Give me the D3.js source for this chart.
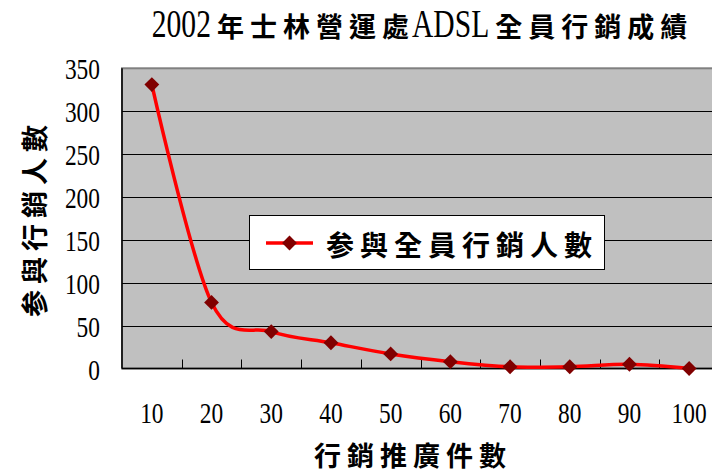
<!DOCTYPE html>
<html>
<head>
<meta charset="utf-8">
<script src="https://cdn.jsdelivr.net/npm/d3@7"></script>
<style>
  html, body { margin: 0; padding: 0; background: #ffffff; }
  svg { display: block; }
</style>
</head>
<body>
<script>
// Chart data
const categories = ["10", "20", "30", "40", "50", "60", "70", "80", "90", "100"];
const participants = [331, 77, 43, 30, 17, 8, 2, 2, 5, 0];
const yTicks = [0, 50, 100, 150, 200, 250, 300, 350];
const seriesName = "参與全員行銷人數";
const titleRuns = [
  { text: "2002", latin: true },
  { text: "年士林營運處", latin: false },
  { text: "ADSL", latin: true },
  { text: "全員行銷成績", latin: false }
];
const xTitle = "行銷推廣件數";
const yTitle = "参與行銷人數";

const W = 712, H = 475;
const plot = { left: 122, top: 68.3, right: 719, bottom: 368.5 };

const CJK = "'Noto Sans CJK TC', 'Noto Sans CJK JP', sans-serif";
const SERIF = "'Liberation Serif', 'DejaVu Serif', serif";

const svg = d3.select("body").append("svg")
  .attr("width", W).attr("height", H);

const x = d3.scaleBand().domain(categories).range([plot.left, plot.right]).padding(0);
const y = d3.scaleLinear().domain([0, 350]).range([plot.bottom, plot.top]);

// Plot area
svg.append("rect")
  .attr("x", plot.left).attr("y", plot.top)
  .attr("width", plot.right - plot.left).attr("height", plot.bottom - plot.top)
  .attr("fill", "#c0c0c0").attr("stroke", "#808080").attr("stroke-width", 2);

// Horizontal gridlines
svg.append("g").selectAll("line")
  .data(yTicks.filter(v => v > 0 && v < 350))
  .join("line")
  .attr("x1", plot.left).attr("x2", plot.right)
  .attr("y1", d => Math.round(y(d)) + 0.5).attr("y2", d => Math.round(y(d)) + 0.5)
  .attr("stroke", "#000").attr("stroke-width", 1);

// Axis lines
svg.append("line")
  .attr("x1", plot.left).attr("x2", plot.left)
  .attr("y1", plot.top).attr("y2", plot.bottom)
  .attr("stroke", "#000").attr("stroke-width", 1.5);
svg.append("line")
  .attr("x1", plot.left).attr("x2", plot.right)
  .attr("y1", plot.bottom).attr("y2", plot.bottom)
  .attr("stroke", "#000").attr("stroke-width", 1.5);

// Category tick marks between bands (pointing into the plot)
svg.append("g").selectAll("line")
  .data(categories.slice(1))
  .join("line")
  .attr("x1", d => Math.round(x(d)) + 0.5).attr("x2", d => Math.round(x(d)) + 0.5)
  .attr("y1", plot.bottom).attr("y2", plot.bottom - 9)
  .attr("stroke", "#000").attr("stroke-width", 1);

// Condensed serif numerals for tick labels
const numSize = 30, numSX = 0.78;
svg.append("g").selectAll("text")
  .data(yTicks)
  .join("text")
  .attr("transform", d => `translate(100,${y(d) + 11}) scale(${numSX},1)`)
  .attr("text-anchor", "end")
  .attr("font-family", SERIF).attr("font-size", numSize)
  .attr("fill", "#000")
  .text(d => d);

svg.append("g").selectAll("text")
  .data(categories)
  .join("text")
  .attr("transform", d => `translate(${x(d) + x.bandwidth() / 2},${423}) scale(${numSX},1)`)
  .attr("text-anchor", "middle")
  .attr("font-family", SERIF).attr("font-size", numSize)
  .attr("fill", "#000")
  .text(d => d);

// Series line (smoothed) and markers
const cx = (d, i) => x(categories[i]) + x.bandwidth() / 2;
const line = d3.line()
  .x(cx)
  .y(d => y(d))
  .curve(d3.curveCatmullRom.alpha(0));

svg.append("path")
  .datum(participants)
  .attr("d", line)
  .attr("fill", "none")
  .attr("stroke", "#ff0000")
  .attr("stroke-width", 3.5)
  .attr("stroke-linejoin", "round");

const diamond = d3.symbol(d3.symbolSquare, 110);
svg.append("g").selectAll("path")
  .data(participants)
  .join("path")
  .attr("d", diamond)
  .attr("transform", (d, i) => `translate(${cx(d, i)},${y(d)}) rotate(45)`)
  .attr("fill", "#800000");

// Legend
const legend = svg.append("g");
legend.append("rect")
  .attr("x", 249.5).attr("y", 215.5).attr("width", 355).attr("height", 54)
  .attr("fill", "#fff").attr("stroke", "#000").attr("stroke-width", 1);
legend.append("line")
  .attr("x1", 266).attr("x2", 313).attr("y1", 243).attr("y2", 243)
  .attr("stroke", "#ff0000").attr("stroke-width", 3.5);
legend.append("path")
  .attr("d", diamond)
  .attr("transform", "translate(289.5,243) rotate(45)")
  .attr("fill", "#800000");
legend.append("text")
  .attr("x", 326).attr("y", 256)
  .attr("font-family", CJK).attr("font-size", 28).attr("font-weight", 700)
  .attr("letter-spacing", 6)
  .attr("fill", "#000")
  .text(seriesName);

// Title built from latin (condensed serif) and CJK runs
function drawRuns(parent, runs, centerX, baseline) {
  const g = parent.append("g");
  let pos = 0;
  runs.forEach(r => {
    const t = g.append("text")
      .attr("font-family", r.latin ? SERIF : CJK)
      .attr("font-size", r.latin ? 40 : 27)
      .attr("font-weight", r.latin ? 400 : 700)
      .attr("letter-spacing", r.latin ? 0 : 6)
      .attr("fill", "#000")
      .text(r.text);
    const sx = r.latin ? 0.74 : 1;
    const w = t.node().getComputedTextLength() * sx;
    t.attr("transform", `translate(${pos + (r.latin ? 0 : 3)},0) scale(${sx},1)`);
    pos += w + (r.latin ? 3 : 0);
  });
  g.attr("transform", `translate(${centerX - pos / 2},${baseline})`);
}
drawRuns(svg, titleRuns, 421, 37);

// Axis titles
svg.append("text")
  .attr("x", 413).attr("y", 466)
  .attr("text-anchor", "middle")
  .attr("font-family", CJK).attr("font-size", 27).attr("font-weight", 700)
  .attr("letter-spacing", 6)
  .attr("fill", "#000")
  .text(xTitle);

svg.append("text")
  .attr("transform", "translate(45,218) rotate(-90)")
  .attr("text-anchor", "middle")
  .attr("font-family", CJK).attr("font-size", 27).attr("font-weight", 700)
  .attr("letter-spacing", 6)
  .attr("fill", "#000")
  .text(yTitle);
</script>
</body>
</html>
